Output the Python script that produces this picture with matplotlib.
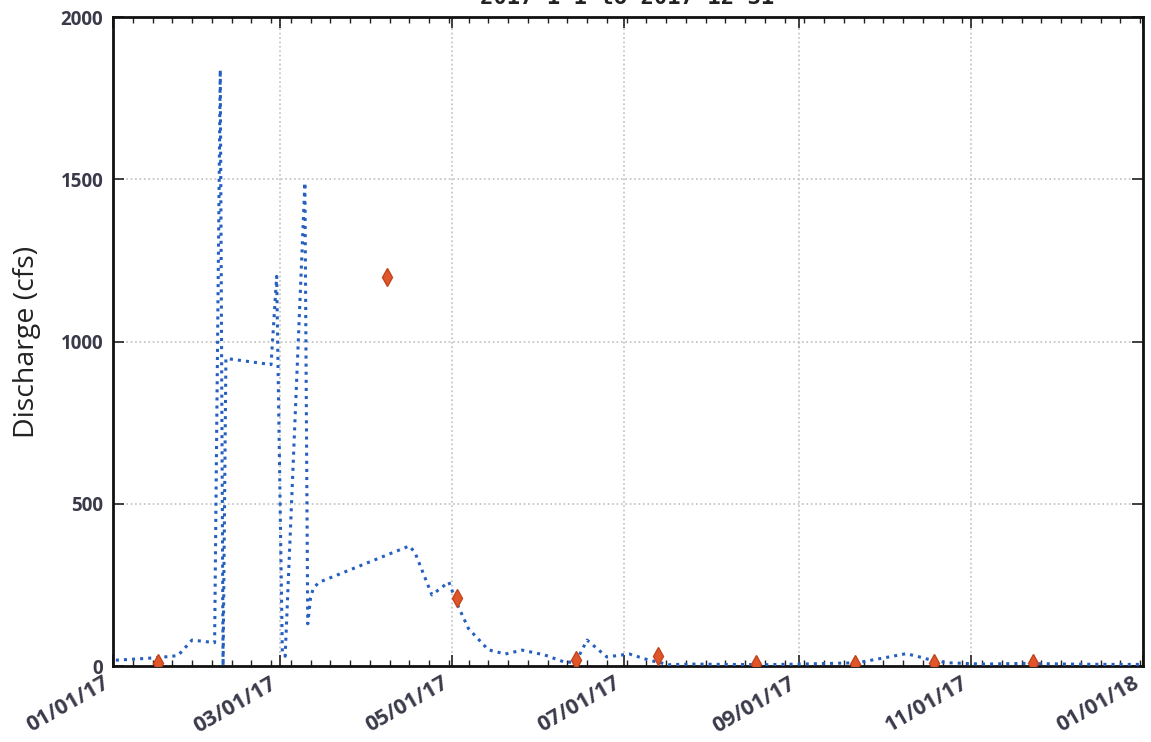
import matplotlib
matplotlib.use('Agg')
import matplotlib.pyplot as plt
import matplotlib.dates as mdates
import numpy as np
from datetime import datetime

# daily discharge
flow_dates = ['2017-01-02', '2017-01-10', '2017-01-17', '2017-01-24', '2017-01-29',
              '2017-02-06', '2017-02-08', '2017-02-09', '2017-02-10', '2017-02-26',
              '2017-02-28', '2017-03-02', '2017-03-03', '2017-03-10', '2017-03-11',
              '2017-03-12', '2017-03-13', '2017-03-15', '2017-04-16', '2017-04-18',
              '2017-04-24', '2017-04-30', '2017-05-03', '2017-05-07', '2017-05-14',
              '2017-05-20', '2017-05-26', '2017-06-03', '2017-06-10', '2017-06-14',
              '2017-06-18', '2017-06-25', '2017-07-03', '2017-07-10', '2017-07-17',
              '2017-07-25', '2017-08-05', '2017-08-20', '2017-09-01', '2017-09-12',
              '2017-09-22', '2017-09-28', '2017-10-03', '2017-10-09', '2017-10-13',
              '2017-10-18', '2017-10-24', '2017-11-05', '2017-11-20', '2017-12-05',
              '2017-12-20', '2017-12-31']
flow_cfs = [18, 22, 26, 32, 80,
            72, 1838, 0, 948, 929,
            1201, 45, 30, 1490, 130,
            210, 240, 258, 370, 350,
            219, 259, 190, 115, 50,
            37, 49, 34, 12, 12,
            80, 28, 37, 18, 4,
            6, 5, 4, 6, 8,
            10, 20, 28, 38, 30,
            18, 10, 6, 8, 6,
            5, 5]

# field measurements
meas_dates = ['2017-01-17', '2017-04-08', '2017-05-03', '2017-06-14', '2017-07-13',
              '2017-08-17', '2017-09-21', '2017-10-19', '2017-11-23']
meas_cfs = [10, 1200, 210, 20, 30, 5, 5, 8, 10]

yticks = [0, 500, 1000, 1500, 2000]
title = '2017-1-1 to 2017-12-31'


def to_dt(lst):
    return [datetime.strptime(d, '%Y-%m-%d') for d in lst]


fig = plt.figure(figsize=(11.51, 7.42), dpi=100)
ax = fig.add_axes([0.0982, 0.1024, 0.8948, 0.8746])

ax.plot(to_dt(flow_dates), flow_cfs, ':', color='#2560c0', linewidth=2.2, zorder=3)
ax.plot(to_dt(meas_dates), meas_cfs, 'd', color='#e0562a', markeredgecolor='#c2441c',
        markersize=9, linestyle='none', zorder=4)

ax.set_xlim(datetime(2017, 1, 1), datetime(2018, 1, 1))
ax.set_ylim(0, 2000)
ax.set_yticks(yticks)

ax.xaxis.set_major_locator(mdates.MonthLocator(bymonth=[1, 3, 5, 7, 9, 11]))
ax.xaxis.set_major_formatter(mdates.DateFormatter('%m/%d/%y'))
ax.xaxis.set_minor_locator(mdates.WeekdayLocator(byweekday=mdates.SU))

ax.grid(True, which='major', linestyle=':', color='#c0c0c0', linewidth=1.2)
ax.tick_params(which='both', direction='in', top=True, right=True, colors='#222222')
ax.tick_params(which='major', length=8, width=1.2)
ax.tick_params(which='minor', length=4, width=1)
ax.tick_params(axis='both', labelcolor='#3a3a4a', labelsize=15.5)
ax.tick_params(axis='y', pad=7)
ax.tick_params(axis='x', pad=5)

for lab in ax.get_xticklabels():
    lab.set_rotation(30)
    lab.set_ha('right')
    lab.set_fontweight('bold')
    lab.set_family('Open Sans')
for lab in ax.get_yticklabels():
    lab.set_fontweight('bold')
    lab.set_family('Open Sans')
    lab.set_fontsize(13.5)

for sp in ax.spines.values():
    sp.set_linewidth(2)
    sp.set_color('#111111')

ax.set_ylabel('Discharge (cfs)', fontsize=20.5, family='Open Sans', color='#222222', labelpad=14)

fig.text(0.545, 1.003, title, ha='center', va='center', fontsize=16,
         fontweight='bold', color='#222222', family='DejaVu Sans Mono')

fig.savefig('out.png', dpi=100)
